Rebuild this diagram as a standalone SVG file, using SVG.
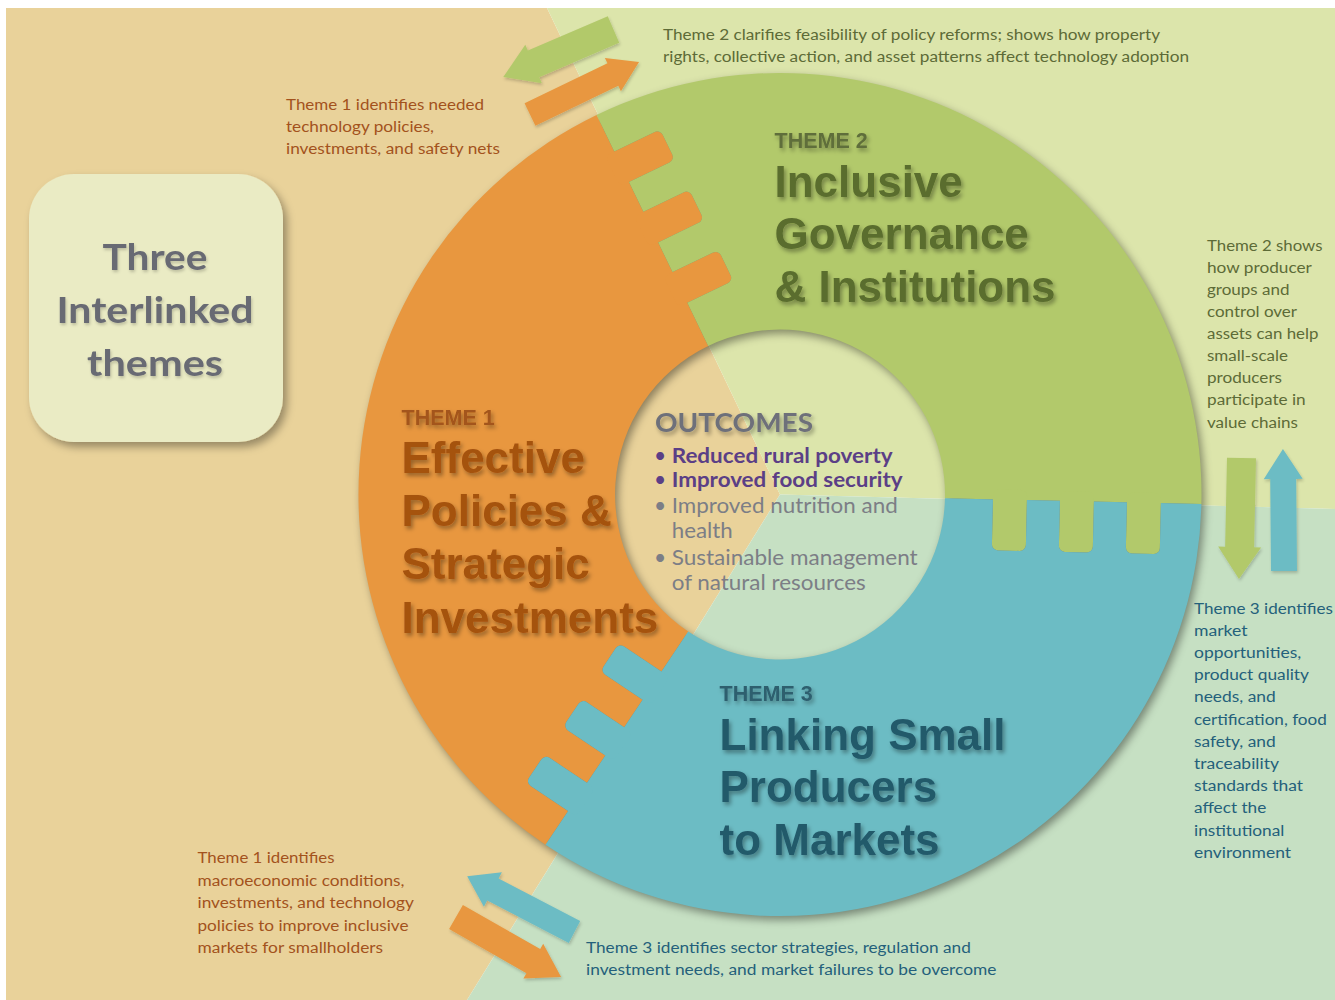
<svg xmlns="http://www.w3.org/2000/svg" xmlns:xlink="http://www.w3.org/1999/xlink" width="1335" height="1000" viewBox="0 0 1335 1000">
<style>
.note{font-family:Lato,"Open Sans","Liberation Sans",sans-serif;font-size:15.5px}
.n1{fill:#A3521D}.n2{fill:#5D6B37}.n3{fill:#24607B}
.ttl{font-family:"Liberation Sans",Arial,sans-serif;font-weight:bold;font-size:44px}
.lbl{font-family:"Liberation Sans",Arial,sans-serif;font-weight:bold;font-size:21.5px}
.out{font-family:Lato,"Open Sans",sans-serif;font-size:21px}
.box{font-family:Lato,"Open Sans",sans-serif;font-weight:bold;font-size:37px;fill:#686A73}
</style>
<defs>
<filter id="ringSh" x="-10%" y="-10%" width="120%" height="120%">
<feGaussianBlur in="SourceAlpha" stdDeviation="4"/>
<feOffset dx="3" dy="4" result="b"/>
<feFlood flood-color="#000" flood-opacity="0.4"/>
<feComposite in2="b" operator="in"/>
</filter>
<filter id="tsh" x="-10%" y="-20%" width="130%" height="150%">
<feDropShadow dx="2" dy="3" stdDeviation="2" flood-color="#000" flood-opacity="0.35"/>
</filter>
<filter id="bsh" x="-10%" y="-10%" width="130%" height="130%">
<feDropShadow dx="4" dy="5" stdDeviation="4" flood-color="#000" flood-opacity="0.35"/>
</filter>
<filter id="ash" x="-20%" y="-20%" width="140%" height="140%">
<feDropShadow dx="1" dy="2" stdDeviation="1.5" flood-color="#000" flood-opacity="0.2"/>
</filter>
<g id="teeth">
<rect x="213" y="-10" width="34" height="61" rx="6"/>
<rect x="280" y="-10" width="34" height="61" rx="6"/>
<rect x="347" y="-10" width="34" height="61" rx="6"/>
</g>
<mask id="mOrange" maskUnits="userSpaceOnUse" x="0" y="0" width="1335" height="1000">
<rect x="0" y="0" width="1335" height="1000" fill="#fff"/>
<use xlink:href="#teeth" href="#teeth" fill="#000" transform="translate(780 494.5) rotate(123.8)"/>
</mask>
<mask id="mGreen" maskUnits="userSpaceOnUse" x="0" y="0" width="1335" height="1000">
<rect x="0" y="0" width="1335" height="1000" fill="#fff"/>
<use xlink:href="#teeth" href="#teeth" fill="#000" transform="translate(780 494.5) rotate(244.2)"/>
</mask>
<mask id="mTeal" maskUnits="userSpaceOnUse" x="0" y="0" width="1335" height="1000">
<rect x="0" y="0" width="1335" height="1000" fill="#fff"/>
<use xlink:href="#teeth" href="#teeth" fill="#000" transform="translate(780 494.5) rotate(1.3)"/>
</mask>
</defs>

<g id="background">
<polygon points="780,494.5 547,8 6,8 6,1000 467,1000" fill="#E9D29A"/>
<polygon points="780,494.5 547,8 1335,8 1335,509" fill="#DCE5AB"/>
<polygon points="780,494.5 1335,509 1335,1000 467,1000" fill="#C6E0C3"/>
</g>

<path id="ring-shadow" filter="url(#ringSh)" fill="#000" fill-rule="evenodd" d="M358.5,494.5 a421.5,421.5 0 1 0 843,0 a421.5,421.5 0 1 0 -843,0 Z M615,494.5 a165,165 0 1 0 330,0 a165,165 0 1 0 -330,0 Z"/>

<g id="theme1">
<path fill="#E8973F" mask="url(#mOrange)" d="M545.5,844.8 A421.5,421.5 0 0 1 596.6,115 L708.2,346 A165,165 0 0 0 688.2,631.6 Z"/>
<use xlink:href="#teeth" href="#teeth" fill="#E8973F" transform="translate(780 494.5) rotate(244.2)"/>
<g filter="url(#tsh)">
<text class="lbl" x="401.5" y="425" fill="#A3551A">THEME 1</text>
<text class="ttl" fill="#A5520E"><tspan x="401.5" y="472.7">Effective</tspan><tspan x="401.5" y="526">Policies &amp;</tspan><tspan x="401.5" y="579.3">Strategic</tspan><tspan x="401.5" y="632.6">Investments</tspan></text>
</g>
</g>

<g id="theme2">
<path fill="#B2C96B" mask="url(#mGreen)" d="M596.6,115 A421.5,421.5 0 0 1 1201.4,504.1 L945,498.2 A165,165 0 0 0 708.2,346 Z"/>
<use xlink:href="#teeth" href="#teeth" fill="#B2C96B" transform="translate(780 494.5) rotate(1.3)"/>
<g filter="url(#tsh)">
<text class="lbl" x="774.5" y="147.7" fill="#5F6E3A">THEME 2</text>
<text class="ttl" fill="#5A6D2E"><tspan x="774.5" y="196.7">Inclusive</tspan><tspan x="774.5" y="249.3">Governance</tspan><tspan x="774.5" y="302">&amp; Institutions</tspan></text>
</g>
</g>

<g id="theme3">
<path fill="#6CBCC4" mask="url(#mTeal)" d="M1201.4,504.1 A421.5,421.5 0 0 1 545.5,844.8 L688.2,631.6 A165,165 0 0 0 945,498.2 Z"/>
<use xlink:href="#teeth" href="#teeth" fill="#6CBCC4" transform="translate(780 494.5) rotate(123.8)"/>
<g filter="url(#tsh)">
<text class="lbl" x="719.5" y="700.7" fill="#2D5E6E">THEME 3</text>
<text class="ttl" fill="#245A6B"><tspan x="719.5" y="749.5">Linking Small</tspan><tspan x="719.5" y="802">Producers</tspan><tspan x="719.5" y="854.5">to Markets</tspan></text>
</g>
</g>

<g id="outcomes">
<text x="655" y="431.7" filter="url(#tsh)" style="font-family:Lato,'Open Sans',sans-serif;font-weight:bold;font-size:27.5px" fill="#6E707A" textLength="158" lengthAdjust="spacingAndGlyphs">OUTCOMES</text>
<g class="out">
<text x="654" y="462.7" fill="#5B3F86">•</text>
<text x="671.7" y="462.7" fill="#5B3F86" font-weight="bold" textLength="221" lengthAdjust="spacingAndGlyphs">Reduced rural poverty</text>
<text x="654" y="486.7" fill="#5B3F86">•</text>
<text x="671.7" y="486.7" fill="#5B3F86" font-weight="bold" textLength="231" lengthAdjust="spacingAndGlyphs">Improved food security</text>
<text x="654" y="513.3" fill="#7C7E86">•</text>
<text x="671.7" y="513.3" fill="#7C7E86" textLength="226" lengthAdjust="spacingAndGlyphs">Improved nutrition and</text>
<text x="671.7" y="538.3" fill="#7C7E86" textLength="61" lengthAdjust="spacingAndGlyphs">health</text>
<text x="654" y="565" fill="#7C7E86">•</text>
<text x="671.7" y="565" fill="#7C7E86" textLength="246" lengthAdjust="spacingAndGlyphs">Sustainable management</text>
<text x="671.7" y="590" fill="#7C7E86" textLength="194" lengthAdjust="spacingAndGlyphs">of natural resources</text>
</g>
</g>

<g id="title-box">
<rect x="29" y="174" width="254" height="268" rx="45" fill="#EAEBC4" filter="url(#bsh)"/>
<g filter="url(#ash)">
<text class="box" x="155" y="270" text-anchor="middle" textLength="105" lengthAdjust="spacingAndGlyphs">Three</text>
<text class="box" x="155" y="322.7" text-anchor="middle" textLength="197" lengthAdjust="spacingAndGlyphs">Interlinked</text>
<text class="box" x="155" y="376" text-anchor="middle" textLength="136" lengthAdjust="spacingAndGlyphs">themes</text>
</g>
</g>

<g id="note-t1-top" class="note n1">
<text x="286" y="110" textLength="198" lengthAdjust="spacingAndGlyphs">Theme 1 identifies needed</text>
<text x="286" y="132" textLength="148" lengthAdjust="spacingAndGlyphs">technology policies,</text>
<text x="286" y="154" textLength="214" lengthAdjust="spacingAndGlyphs">investments, and safety nets</text>
</g>

<g id="note-t2-top" class="note n2">
<text x="663" y="39.5" textLength="497" lengthAdjust="spacingAndGlyphs">Theme 2 clarifies feasibility of policy reforms; shows how property</text>
<text x="663" y="61.5" textLength="526" lengthAdjust="spacingAndGlyphs">rights, collective action, and asset patterns affect technology adoption</text>
</g>

<g id="note-t2-right" class="note n2">
<text x="1207" y="250.7" textLength="115.5" lengthAdjust="spacingAndGlyphs">Theme 2 shows</text>
<text x="1207" y="272.8" textLength="104.8" lengthAdjust="spacingAndGlyphs">how producer</text>
<text x="1207" y="294.9" textLength="82.5" lengthAdjust="spacingAndGlyphs">groups and</text>
<text x="1207" y="317" textLength="90" lengthAdjust="spacingAndGlyphs">control over</text>
<text x="1207" y="339.1" textLength="111.4" lengthAdjust="spacingAndGlyphs">assets can help</text>
<text x="1207" y="361.2" textLength="81" lengthAdjust="spacingAndGlyphs">small-scale</text>
<text x="1207" y="383.3" textLength="75" lengthAdjust="spacingAndGlyphs">producers</text>
<text x="1207" y="405.4" textLength="98.7" lengthAdjust="spacingAndGlyphs">participate in</text>
<text x="1207" y="427.5" textLength="91" lengthAdjust="spacingAndGlyphs">value chains</text>
</g>

<g id="note-t3-right" class="note n3">
<text x="1194" y="613.5" textLength="138.8" lengthAdjust="spacingAndGlyphs">Theme 3 identifies</text>
<text x="1194" y="635.7" textLength="53.6" lengthAdjust="spacingAndGlyphs">market</text>
<text x="1194" y="657.9" textLength="107.3" lengthAdjust="spacingAndGlyphs">opportunities,</text>
<text x="1194" y="680.1" textLength="115" lengthAdjust="spacingAndGlyphs">product quality</text>
<text x="1194" y="702.3" textLength="81.7" lengthAdjust="spacingAndGlyphs">needs, and</text>
<text x="1194" y="724.5" textLength="132.8" lengthAdjust="spacingAndGlyphs">certification, food</text>
<text x="1194" y="746.7" textLength="81.7" lengthAdjust="spacingAndGlyphs">safety, and</text>
<text x="1194" y="768.9" textLength="85" lengthAdjust="spacingAndGlyphs">traceability</text>
<text x="1194" y="791.1" textLength="109" lengthAdjust="spacingAndGlyphs">standards that</text>
<text x="1194" y="813.3" textLength="72.3" lengthAdjust="spacingAndGlyphs">affect the</text>
<text x="1194" y="835.5" textLength="90.3" lengthAdjust="spacingAndGlyphs">institutional</text>
<text x="1194" y="857.7" textLength="97" lengthAdjust="spacingAndGlyphs">environment</text>
</g>

<g id="note-t1-bottom" class="note n1">
<text x="197.5" y="863.3" textLength="137" lengthAdjust="spacingAndGlyphs">Theme 1 identifies</text>
<text x="197.5" y="885.8" textLength="207" lengthAdjust="spacingAndGlyphs">macroeconomic conditions,</text>
<text x="197.5" y="908.2" textLength="216.3" lengthAdjust="spacingAndGlyphs">investments, and technology</text>
<text x="197.5" y="930.6" textLength="211" lengthAdjust="spacingAndGlyphs">policies to improve inclusive</text>
<text x="197.5" y="952.8" textLength="185.6" lengthAdjust="spacingAndGlyphs">markets for smallholders</text>
</g>

<g id="note-t3-bottom" class="note n3">
<text x="586" y="952.7" textLength="384.8" lengthAdjust="spacingAndGlyphs">Theme 3 identifies sector strategies, regulation and</text>
<text x="586" y="974.5" textLength="410.4" lengthAdjust="spacingAndGlyphs">investment needs, and market failures to be overcome</text>
</g>

<g id="connectors" filter="url(#ash)">
<polygon fill="#B2C96B" transform="translate(613.5 29.5) rotate(156.7)" points="0,-14.5 87,-14.5 87,-21 120,0 87,21 87,14.5 0,14.5"/>
<polygon fill="#E8973F" transform="translate(530 114.5) rotate(-25.7)" points="0,-12.5 92,-12.5 92,-18.5 121,0 92,18.5 92,12.5 0,12.5"/>
<polygon fill="#B2C96B" transform="translate(1241.5 458) rotate(91.2)" points="0,-14.5 89,-14.5 89,-21.5 121,0 89,21.5 89,14.5 0,14.5"/>
<polygon fill="#6CBCC4" transform="translate(1284 571) rotate(-90.5)" points="0,-13 92,-13 92,-19.5 122,0 92,19.5 92,13 0,13"/>
<polygon fill="#6CBCC4" transform="translate(574.5 932) rotate(207.5)" points="0,-12.3 92,-12.3 92,-19.5 121,0 92,19.5 92,12.3 0,12.3"/>
<polygon fill="#E8973F" transform="translate(456 917) rotate(29.7)" points="0,-13.9 89,-13.9 89,-20 121,0 89,20 89,13.9 0,13.9"/>
</g>
</svg>
